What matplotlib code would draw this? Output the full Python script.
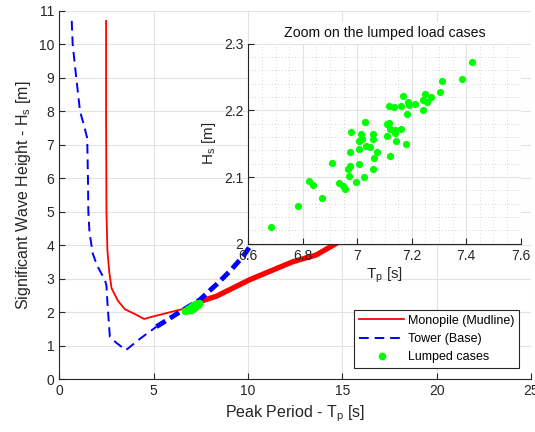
import matplotlib
matplotlib.use('Agg')
import matplotlib.pyplot as plt
from matplotlib.ticker import FuncFormatter, MultipleLocator

plt.rcParams['font.family'] = ['Liberation Sans', 'DejaVu Sans']
plt.rcParams['mathtext.default'] = 'regular'

# Monopile (mudline) contour - thin part and thick (overlapping) part
mono_tp = [2.48, 2.48, 2.50, 2.55, 2.65, 2.77, 3.10, 3.48, 4.00, 4.50, 4.80, 5.50, 6.56, 7.00]
mono_hs = [10.7, 8.0, 5.0, 3.86, 3.20, 2.72, 2.35, 2.09, 1.95, 1.80, 1.85, 1.95, 2.10, 2.18]
mono_tp_thick = [7.00, 7.44, 8.33, 10.08, 10.97, 12.38, 13.61, 14.85, 16.5, 18.0]
mono_hs_thick = [2.18, 2.32, 2.48, 2.97, 3.18, 3.51, 3.71, 4.11, 4.60, 5.10]

# Tower (base) contour
tower_tp = [0.66, 0.71, 0.90, 1.10, 1.30, 1.48, 1.52, 1.54, 1.60, 1.77, 2.00, 2.42,
            2.50, 2.55, 2.68, 3.00, 3.53, 4.30, 5.15]
tower_hs = [10.7, 10.0, 9.0, 8.0, 7.6, 7.2, 6.0, 5.0, 4.4, 3.76, 3.40, 2.96,
            2.80, 2.30, 1.27, 1.10, 0.87, 1.22, 1.57]
tower_tp_thick = [5.15, 6.56, 7.44, 8.33, 9.03, 9.74, 10.10, 11.0]
tower_hs_thick = [1.57, 2.07, 2.37, 2.83, 3.22, 3.67, 3.96, 4.60]

# Lumped load cases
lump_tp = [6.683, 6.781, 6.824, 6.836, 6.872, 6.908, 6.933, 6.948, 6.956, 6.967,
           6.971, 6.973, 6.973, 6.976, 6.994, 7.006, 7.008, 7.008, 7.014, 7.019,
           7.025, 7.029, 7.033, 7.047, 7.057, 7.059, 7.058, 7.062, 7.072, 7.108,
           7.108, 7.115, 7.116, 7.120, 7.120, 7.134, 7.137, 7.139, 7.142, 7.162,
           7.162, 7.167, 7.179, 7.184, 7.187, 7.190, 7.212, 7.240, 7.243, 7.250,
           7.255, 7.271, 7.305, 7.310, 7.386, 7.420]
lump_hs = [2.025, 2.056, 2.094, 2.088, 2.068, 2.121, 2.091, 2.087, 2.082, 2.112,
           2.101, 2.116, 2.137, 2.168, 2.093, 2.119, 2.142, 2.154, 2.164, 2.157,
           2.100, 2.183, 2.146, 2.145, 2.164, 2.157, 2.112, 2.128, 2.137, 2.161,
           2.180, 2.206, 2.181, 2.131, 2.172, 2.205, 2.170, 2.166, 2.154, 2.172,
           2.207, 2.221, 2.149, 2.194, 2.213, 2.208, 2.210, 2.201, 2.216, 2.224,
           2.213, 2.220, 2.228, 2.244, 2.247, 2.273]

dark = '#262626'
grid_c = '#e3e3e3'

fig = plt.figure(figsize=(5.35, 4.32), dpi=100)
ax = fig.add_axes([0.1108, 0.122, 0.8817, 0.853])

ax.plot(mono_tp, mono_hs, color='r', lw=1.3, label='Monopile (Mudline)')
ax.plot(mono_tp_thick, mono_hs_thick, color='r', lw=3.8)
ax.plot(tower_tp, tower_hs, color='b', lw=1.4, dashes=(5, 3), label='Tower (Base)')
ax.plot(tower_tp_thick, tower_hs_thick, color='b', lw=3.5, dashes=(2.2, 1.1))
ax.plot(lump_tp, lump_hs, 'o', color='#00ff00', ms=5.5, mec='none', label='Lumped cases')

ax.set_xlim(0, 25)
ax.set_ylim(0, 11)
ax.set_xticks(range(0, 26, 5))
ax.set_yticks(range(0, 12))
ax.grid(True, color=grid_c, lw=0.8)
ax.set_axisbelow(True)
for s in ['top', 'right']:
    ax.spines[s].set_visible(False)
for s in ['left', 'bottom']:
    ax.spines[s].set_color(dark)
    ax.spines[s].set_linewidth(0.8)
ax.tick_params(direction='in', length=4, width=0.8, colors=dark, labelsize=10)
ax.set_xlabel('Peak Period - T$_p$ [s]', fontsize=11.5, color=dark)
ax.set_ylabel('Significant Wave Height - H$_s$ [m]', fontsize=11.5, color=dark)

leg = ax.legend(loc='lower right', bbox_to_anchor=(0.975, 0.03), borderaxespad=0,
                fontsize=9, fancybox=False, edgecolor=dark, handlelength=3.6,
                framealpha=1, borderpad=0.4, labelspacing=0.5, handletextpad=0.3)
leg.get_frame().set_linewidth(0.8)

# inset zoom on the lumped cases
ins = fig.add_axes([0.4641, 0.4359, 0.5092, 0.4629])
ins.set_facecolor('white')
ins.plot(lump_tp, lump_hs, 'o', color='#00ff00', ms=5.2, mec='none')
ins.set_xlim(6.6, 7.6)
ins.set_ylim(2.0, 2.3)
ins.xaxis.set_major_locator(MultipleLocator(0.2))
ins.yaxis.set_major_locator(MultipleLocator(0.1))
ins.xaxis.set_minor_locator(MultipleLocator(0.05))
ins.yaxis.set_minor_locator(MultipleLocator(0.02))
fmt = FuncFormatter(lambda v, p: '%g' % round(v, 2))
ins.xaxis.set_major_formatter(fmt)
ins.yaxis.set_major_formatter(fmt)
ins.grid(True, which='major', color=grid_c, lw=0.8)
ins.grid(True, which='minor', color='#c8c8c8', lw=0.6, ls=(0, (1, 3)))
ins.set_axisbelow(True)
for s in ['top', 'right']:
    ins.spines[s].set_visible(False)
for s in ['left', 'bottom']:
    ins.spines[s].set_color(dark)
    ins.spines[s].set_linewidth(0.8)
ins.tick_params(which='both', direction='in', colors=dark, labelsize=10)
ins.tick_params(which='major', length=4, width=0.8)
ins.tick_params(which='minor', length=0)
ins.set_xlabel('T$_p$ [s]', fontsize=11, color=dark, labelpad=2)
ins.set_ylabel('H$_s$ [m]', fontsize=11, color=dark)
ins.set_title('Zoom on the lumped load cases', fontsize=10.2, color='#111111', pad=5,
              bbox=dict(facecolor='white', edgecolor='none', pad=3))

fig.savefig('out.png', dpi=100)
